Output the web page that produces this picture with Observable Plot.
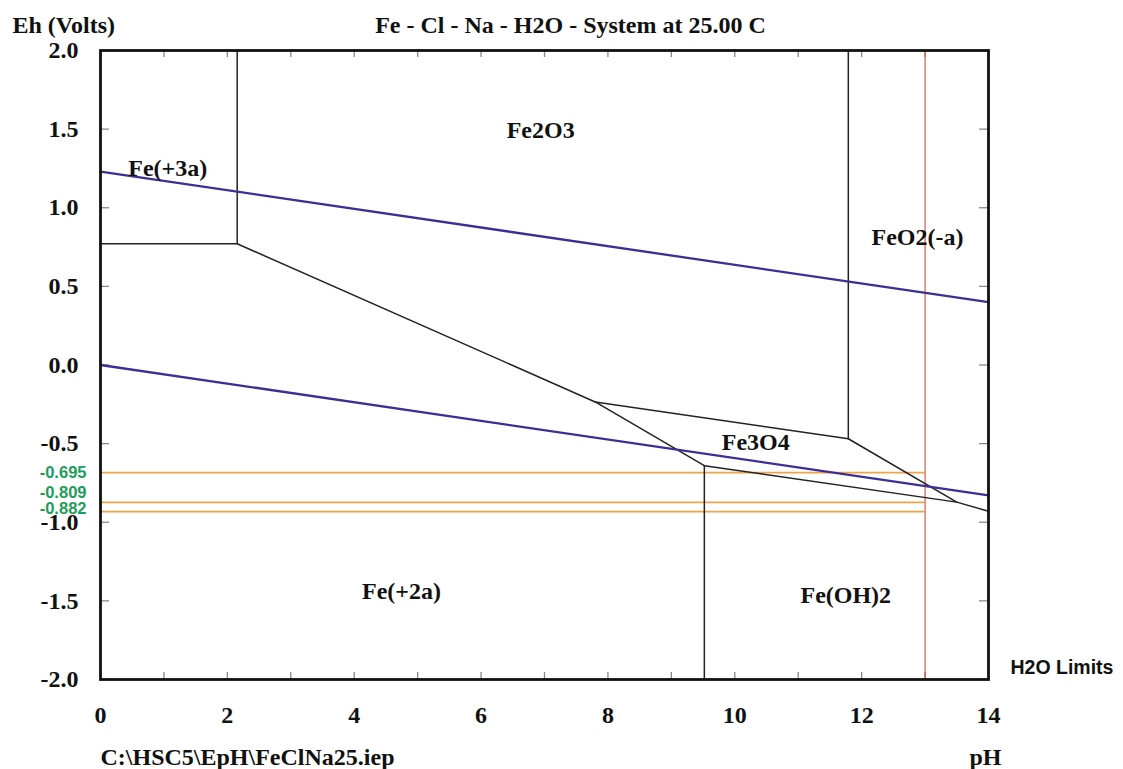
<!DOCTYPE html>
<html>
<head>
<meta charset="utf-8">
<script src="https://cdn.jsdelivr.net/npm/d3@7"></script>
<script src="https://cdn.jsdelivr.net/npm/@observablehq/plot@0.6"></script>
<style>
  html, body { margin: 0; padding: 0; background: #fff; }
  #chart svg { display: block; }
</style>
</head>
<body>
<div id="chart"></div>
<script>
// ---- Data ----
const titleText = "Fe - Cl - Na - H2O - System at 25.00 C";
const yTitle = "Eh (Volts)";
const xTitle = "pH";
const fileName = "C:\\HSC5\\EpH\\FeClNa25.iep";
const limitsLabel = "H2O Limits";

const xTickLabels = [0, 2, 4, 6, 8, 10, 12, 14];
const xMinorTicks = [0, 1, 2, 3, 4, 5, 6, 7, 8, 9, 10, 11, 12, 13, 14];
const yTickLabels = [2.0, 1.5, 1.0, 0.5, 0.0, -0.5, -1.0, -1.5, -2.0];

// Stability-field boundaries: [segment id, pH, Eh]
const boundaryIds = ["a","a","b","b","b","b","c","c","d","d","d","d","e","e","f","f"];
const boundaryPH  = [2.155, 2.155, 0, 2.155, 7.80, 9.52, 9.52, 9.52, 7.80, 11.79, 13.50, 14.0, 11.79, 11.79, 9.52, 13.50];
const boundaryEh  = [2.0, 0.771, 0.771, 0.771, -0.235, -0.640, -0.640, -2.0, -0.235, -0.469, -0.872, -0.930, -0.469, 2.0, -0.640, -0.872];

// Water stability limits (O2 / H2 lines), endpoints
const waterIds = ["O2","O2","H2","H2"];
const waterPH  = [0, 14, 0, 14];
const waterEh  = [1.23, 0.40, 0.0, -0.829];

// Orange horizontal reference lines (as drawn) and their green labels
const refLineEh = [-0.684, -0.874, -0.933];
const refLineEndPH = 13;
const refLabels = ["-0.695", "-0.809", "-0.882"];
const refLabelEh = [-0.684, -0.815, -0.912];

// Red vertical line at pH 13
const redLinePH = [13];

// Species labels
const speciesNames = ["Fe2O3", "Fe(+3a)", "FeO2(-a)", "Fe3O4", "Fe(+2a)", "Fe(OH)2"];
const speciesPH    = [6.94, 1.06, 12.88, 10.33, 4.745, 11.75];
const speciesEh    = [1.49, 1.248, 0.811, -0.491, -1.440, -1.466];

// ---- Build tables ----
const boundaries = boundaryIds.map((id, i) => ({id, pH: boundaryPH[i], Eh: boundaryEh[i]}));
const water = waterIds.map((id, i) => ({id, pH: waterPH[i], Eh: waterEh[i]}));
const refLines = refLineEh.map(Eh => ({Eh, x1: 0, x2: refLineEndPH}));
const refLabelData = refLabels.map((t, i) => ({t, Eh: refLabelEh[i]}));
const species = speciesNames.map((name, i) => ({name, pH: speciesPH[i], Eh: speciesEh[i]}));

const serif = "'Liberation Serif', 'Times New Roman', serif";
const sans = "'Liberation Sans', Arial, sans-serif";
const FS = 24;

const chart = Plot.plot({
  width: 1123,
  height: 769,
  marginLeft: 100,
  marginRight: 135,
  marginTop: 50,
  marginBottom: 90,
  style: {fontFamily: serif, background: "#fff", overflow: "visible"},
  x: {domain: [0, 14]},
  y: {domain: [-2, 2]},
  marks: [
    // Axis labels
    Plot.axisX(xTickLabels, {anchor: "bottom", tickSize: 0, tickPadding: 36, lineAnchor: "middle",
      fontSize: FS, fontWeight: "bold", fill: "#111", tickFormat: d => String(d), label: null}),
    Plot.axisY(yTickLabels, {anchor: "left", tickSize: 0, tickPadding: 22,
      fontSize: FS, fontWeight: "bold", fill: "#111", tickFormat: d => d.toFixed(1), label: null}),
    // Inward ticks
    Plot.tickX(xMinorTicks, {x: d => d, insetTop: 622, stroke: "#888", strokeWidth: 1.3}),
    Plot.tickX(xMinorTicks, {x: d => d, insetBottom: 622, stroke: "#888", strokeWidth: 1.3}),
    Plot.tickY(yTickLabels, {y: d => d, insetRight: 879, stroke: "#888", strokeWidth: 1.3}),
    Plot.tickY(yTickLabels, {y: d => d, insetLeft: 879, stroke: "#888", strokeWidth: 1.3}),

    // Orange reference lines
    Plot.ruleY(refLines, {y: "Eh", x1: "x1", x2: "x2", stroke: "#f0a448", strokeWidth: 1.7}),
    // Red vertical
    Plot.ruleX(redLinePH, {x: d => d, stroke: "#d9473f", strokeWidth: 1.1}),
    // Boundaries
    Plot.line(boundaries, {x: "pH", y: "Eh", z: "id", stroke: "#222", strokeWidth: 1.5}),
    // Water limits
    Plot.line(water, {x: "pH", y: "Eh", z: "id", stroke: "#3b2f96", strokeWidth: 2.3}),

    // Frame
    Plot.frame({stroke: "#111", strokeWidth: 2.8}),

    // Species labels
    Plot.text(species, {x: "pH", y: "Eh", text: "name", fontSize: FS, fontWeight: "bold", fill: "#111"}),

    // Green reference labels
    Plot.text(refLabelData, {x: 0, y: "Eh", text: "t", dx: -14, textAnchor: "end", fontFamily: sans,
      fontSize: 16.5, fontWeight: "bold", fill: "#1d9e57"}),

    // Titles and notes
    Plot.text([titleText], {x: 7.41, y: 2, dy: -25, text: d => d, fontSize: FS, fontWeight: "bold", fill: "#111"}),
    Plot.text([yTitle], {x: 0, y: 2, dx: -88, dy: -25, text: d => d, textAnchor: "start", fontSize: FS, fontWeight: "bold", fill: "#111"}),
    Plot.text([fileName], {x: 0, y: -2, dy: 78, text: d => d, textAnchor: "start", fontSize: FS, fontWeight: "bold", fill: "#111"}),
    Plot.text([xTitle], {x: 14, y: -2, dx: -3, dy: 78, text: d => d, fontSize: FS, fontWeight: "bold", fill: "#111"}),
    Plot.text([limitsLabel], {x: 14, y: -2, dx: 22, dy: -12, text: d => d, textAnchor: "start", fontFamily: sans,
      fontSize: 19.5, fontWeight: "bold", fill: "#111"})
  ]
});
document.getElementById("chart").appendChild(chart);
</script>
</body>
</html>
